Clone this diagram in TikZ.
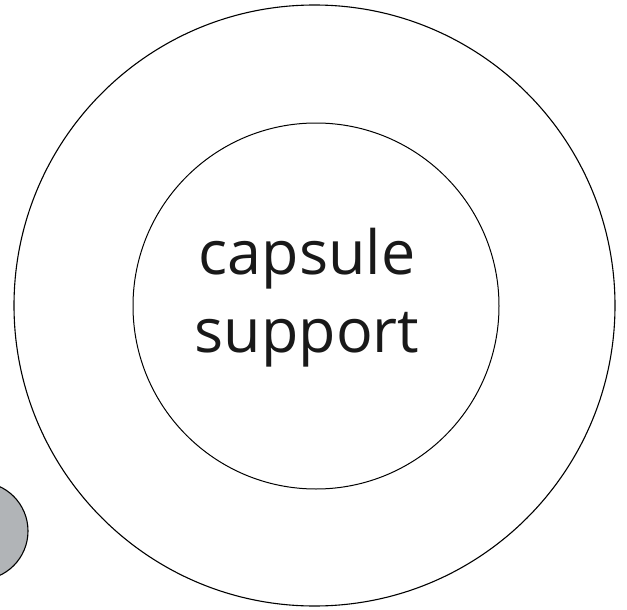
\documentclass[tikz,border=0pt]{standalone}
\usepackage{fontspec}
\setmainfont{Open Sans}
\definecolor{capgray}{HTML}{B1B4B7}
\begin{document}
\begin{tikzpicture}[x=1pt,y=-1pt]
    \useasboundingbox (0,0) rectangle (627,610);

  \draw[line width=1.1pt, fill=capgray] (-21,531) circle (49);

\draw[line width=1.1pt] (314.5,305.5) circle (300.5);
\draw[line width=1pt] (316,306) circle (183);

\node[align=center, font=\fontsize{61}{78}\selectfont, text=black!90] (label) at (307,298) {capsule\\support};

\end{tikzpicture}
\end{document}
